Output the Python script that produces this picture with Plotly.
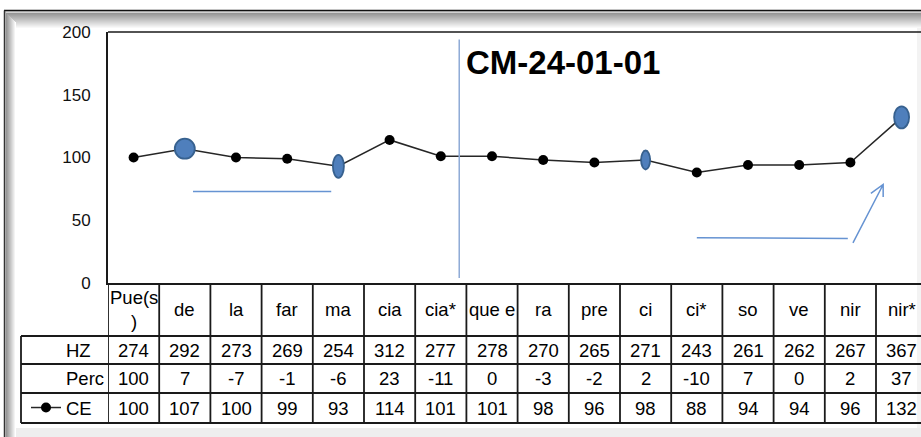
import plotly.graph_objects as go

# Syllables, measured pitch (Hz), percent change and normalised contour (CE)
categories = ["Pue(s)", "de", "la", "far", "ma", "cia", "cia*", "que e",
              "ra", "pre", "ci", "ci*", "so", "ve", "nir", "nir*"]
hz_values = [274, 292, 273, 269, 254, 312, 277, 278, 270, 265, 271, 243, 261, 262, 267, 367]
perc_values = [100, 7, -7, -1, -6, 23, -11, 0, -3, -2, 2, -10, 7, 0, 2, 37]
ce_values = [100, 107, 100, 99, 93, 114, 101, 101, 98, 96, 98, 88, 94, 94, 96, 132]
y_tick_values = [0, 50, 100, 150, 200]
stressed_points = [1, 4, 10, 15]

# ---- geometry (pixels) ----
W, H = 921, 437
LEFT, TOP, BOTTOM = 108, 32, 283
COL_W = 51.2
PW = W - LEFT
PH = BOTTOM - TOP
X_MIN = -0.5
X_MAX = X_MIN + PW / COL_W


def xp(px):
    return (px - LEFT) / PW


def yp(py):
    return (BOTTOM - py) / PH


FONT = "Liberation Sans, Arial, sans-serif"
TXT = "#000000"
TABLE_SIZE = 18.5
BLUE_FILL = "#4f7fbc"
BLUE_EDGE = "#37618f"
BLUE_LINE = "#6693d2"

idx = list(range(len(categories)))

fig = go.Figure()
fig.add_trace(go.Scatter(
    x=idx, y=ce_values, mode="lines+markers", name="CE",
    line=dict(color="#262626", width=1.5),
    marker=dict(color="#000000", size=10),
    cliponaxis=False,
))

shapes = []

# stressed syllables drawn as blue ellipses centred on their CE value
ellipse_px = {1: (20, 20), 4: (11, 23), 10: (9, 19), 15: (15, 22)}
for i in stressed_points:
    w, h = ellipse_px[i]
    shapes.append(dict(
        type="circle", xref="x", yref="y", layer="above",
        xsizemode="pixel", ysizemode="pixel",
        xanchor=i, yanchor=ce_values[i],
        x0=-w / 2, x1=w / 2, y0=-h / 2, y1=h / 2,
        fillcolor=BLUE_FILL, line=dict(color=BLUE_EDGE, width=1.8),
    ))

# plot-area top border
shapes.append(dict(type="line", xref="paper", yref="paper", x0=0, x1=1, y0=1, y1=1,
                   line=dict(color="#1a1a1a", width=1.5)))

# hand-drawn markup on the contour
shapes.append(dict(type="line", xref="x", yref="y", x0=6.36, x1=6.36, y0=4, y1=194,
                   line=dict(color="#8eaad6", width=1.5)))
shapes.append(dict(type="line", xref="x", yref="y", x0=1.16, x1=3.86, y0=73, y1=73,
                   line=dict(color=BLUE_LINE, width=1.5)))
shapes.append(dict(type="line", xref="x", yref="y", x0=11.0, x1=13.95, y0=36, y1=35.5,
                   line=dict(color=BLUE_LINE, width=1.5)))
shapes.append(dict(type="path", xref="x", yref="y",
                   path="M 14.05 32 L 14.64 78.5 M 14.40 71.5 L 14.64 78.5 L 14.64 68.5",
                   line=dict(color=BLUE_LINE, width=1.5)))

# ---- data table under the axis ----
TABLE_LEFT = 21
HEADER = (283, 336)
rows = [("HZ", hz_values, 336, 364),
        ("Perc", perc_values, 364, 393),
        ("CE", ce_values, 393, 423)]
grid = dict(color="#1a1a1a", width=1.8)

for y in (336, 364, 393, 423):
    shapes.append(dict(type="line", xref="paper", yref="paper",
                       x0=xp(TABLE_LEFT), x1=1, y0=yp(y), y1=yp(y), line=grid))
for k in range(len(categories) + 1):
    shapes.append(dict(type="line", xref="x", yref="paper",
                       x0=k - 0.5, x1=k - 0.5, y0=yp(HEADER[0]), y1=yp(423), line=grid))
shapes.append(dict(type="line", xref="paper", yref="paper",
                   x0=xp(TABLE_LEFT), x1=xp(TABLE_LEFT), y0=yp(336), y1=yp(423), line=grid))

annotations = []


def wrap(label, n=5):
    return label if len(label) <= n else label[:n] + "<br>" + label[n:]


for i, c in enumerate(categories):
    annotations.append(dict(x=i, y=yp((HEADER[0] + HEADER[1]) / 2), xref="x", yref="paper",
                            text=wrap(c), showarrow=False, xanchor="center", yanchor="middle",
                            font=dict(family=FONT, size=TABLE_SIZE, color=TXT)))

for name, vals, y0, y1 in rows:
    for i, v in enumerate(vals):
        annotations.append(dict(x=i, y=yp((y0 + y1) / 2), xref="x", yref="paper",
                                text=str(v), showarrow=False, xanchor="center", yanchor="middle",
                                font=dict(family=FONT, size=TABLE_SIZE, color=TXT)))
    if name != "CE":
        annotations.append(dict(x=xp(64), y=yp((y0 + y1) / 2), xref="paper", yref="paper",
                                text=name, showarrow=False, xanchor="left", yanchor="middle",
                                font=dict(family=FONT, size=TABLE_SIZE, color=TXT)))

# chart title
annotations.append(dict(x=xp(464), y=yp(62), xref="paper", yref="paper",
                        text="<b>CM-24-01-01</b>", showarrow=False,
                        xanchor="left", yanchor="middle",
                        font=dict(family=FONT, size=33, color=TXT)))

# ---- chart-area frame with soft inner shading ----
frame = []
for j in range(16):
    g = int(150 + (255 - 150) * j / 15)
    frame.append(dict(type="rect", xref="paper", yref="paper", layer="below",
                      x0=xp(4), x1=1.01, y0=yp(13 + j), y1=yp(14 + j),
                      fillcolor=f"rgb({g},{g},{g})", line=dict(width=0)))
for j in range(10):
    g = int(150 + (255 - 150) * j / 9)
    frame.append(dict(type="rect", xref="paper", yref="paper", layer="below",
                      x0=xp(6 + j), x1=xp(7 + j), y0=yp(13 + j), y1=yp(H),
                      fillcolor=f"rgb({g},{g},{g})", line=dict(width=0)))
frame.append(dict(type="rect", xref="paper", yref="paper", layer="below",
                  x0=xp(4), x1=1.01, y0=yp(11), y1=yp(13),
                  fillcolor="#d2d2d2", line=dict(width=0)))
frame.append(dict(type="rect", xref="paper", yref="paper", layer="below",
                  x0=xp(4), x1=xp(6), y0=yp(11), y1=yp(H),
                  fillcolor="#cfcfcf", line=dict(width=0)))
frame.append(dict(type="rect", xref="paper", yref="paper", layer="below",
                  x0=xp(16), x1=1.01, y0=yp(428), y1=yp(H),
                  fillcolor="#eeeeee", line=dict(width=0)))
frame.append(dict(type="rect", xref="paper", yref="paper", layer="below",
                  x0=xp(917), x1=1.01, y0=yp(28), y1=yp(428),
                  fillcolor="#f3f3f3", line=dict(width=0)))
frame.append(dict(type="line", xref="paper", yref="paper",
                  x0=xp(4), x1=1.01, y0=yp(10.5), y1=yp(10.5),
                  line=dict(color="#111111", width=1.5)))
frame.append(dict(type="line", xref="paper", yref="paper",
                  x0=xp(4.5), x1=xp(4.5), y0=yp(10.5), y1=yp(H),
                  line=dict(color="#333333", width=1.5)))

fig.update_layout(
    width=W, height=H,
    margin=dict(l=LEFT, r=0, t=TOP, b=H - BOTTOM, pad=0),
    paper_bgcolor="#ffffff", plot_bgcolor="#ffffff",
    showlegend=True,
    legend=dict(x=xp(26), y=yp(408), xanchor="left", yanchor="middle",
                font=dict(family=FONT, size=TABLE_SIZE, color=TXT),
                bgcolor="rgba(0,0,0,0)", borderwidth=0),
    shapes=frame + shapes,
    annotations=annotations,
    xaxis=dict(range=[X_MIN, X_MAX], showgrid=False, zeroline=False,
               showticklabels=False, ticks="", showline=True,
               linecolor="#1a1a1a", linewidth=1.8, fixedrange=True),
    yaxis=dict(range=[0, 200], tickvals=y_tick_values, showgrid=False, zeroline=False,
               ticks="", showline=True, linecolor="#1a1a1a", linewidth=1.8,
               ticklabelstandoff=12,
               tickfont=dict(family=FONT, size=17, color="#111111"), fixedrange=True),
)

fig.write_html("out.html")
